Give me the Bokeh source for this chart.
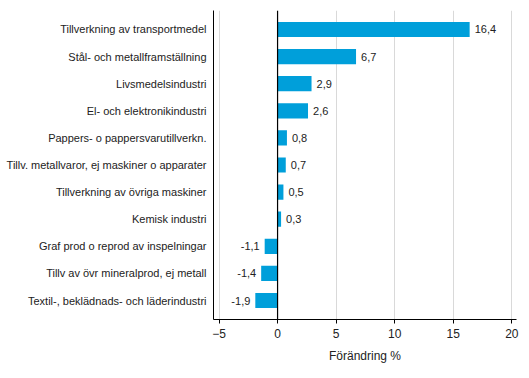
from bokeh.plotting import figure
from bokeh.models import ColumnDataSource, FixedTicker, Span, Range1d
from bokeh.core.properties import value
from bokeh.embed import file_html
from bokeh.resources import INLINE

categories = [
    "Tillverkning av transportmedel",
    "Stål- och metallframställning",
    "Livsmedelsindustri",
    "El- och elektronikindustri",
    "Pappers- o pappersvarutillverkn.",
    "Tillv. metallvaror, ej maskiner o apparater",
    "Tillverkning av övriga maskiner",
    "Kemisk industri",
    "Graf prod o reprod av inspelningar",
    "Tillv av övr mineralprod, ej metall",
    "Textil-, beklädnads- och läderindustri",
]
values = [16.4, 6.7, 2.9, 2.6, 0.8, 0.7, 0.5, 0.3, -1.1, -1.4, -1.9]
x_ticks = [-5, 0, 5, 10, 15, 20]

FONT = "Liberation Sans"
BAR = "#009fda"

pos = list(range(len(categories)))
labels = [f"{v:.1f}".replace(".", ",") for v in values]
src = ColumnDataSource(dict(y=pos, v=values, lab=labels))
pos_src = ColumnDataSource(dict(y=[p for p, v in zip(pos, values) if v >= 0],
                                v=[v for v in values if v >= 0],
                                lab=[l for l, v in zip(labels, values) if v >= 0]))
neg_src = ColumnDataSource(dict(y=[p for p, v in zip(pos, values) if v < 0],
                                v=[v for v in values if v < 0],
                                lab=[l for l, v in zip(labels, values) if v < 0]))

p = figure(width=525, height=374, output_backend="svg", toolbar_location=None,
           x_range=Range1d(-5.47, 20.4), y_range=Range1d(10.7, -0.7),
           min_border_left=213, min_border_top=10, min_border_right=9, min_border_bottom=55)
p.outline_line_color = None
p.background_fill_color = "white"
p.border_fill_color = "white"

p.hbar(y="y", right="v", left=0, height=0.56, source=src, color=BAR, line_color=None)

p.add_layout(Span(location=0, dimension="height", line_color="black", line_width=1.2))

p.text(x="v", y="y", text="lab", source=pos_src, x_offset=5, text_align="left",
       text_baseline="middle", text_font=value(FONT), text_font_size="11px", text_color="#222222")
p.text(x="v", y="y", text="lab", source=neg_src, x_offset=-5, text_align="right",
       text_baseline="middle", text_font=value(FONT), text_font_size="11px", text_color="#222222")

# x axis
p.xaxis.ticker = FixedTicker(ticks=x_ticks)
p.xaxis.axis_label = "Förändring %"
p.xaxis.axis_label_text_font = FONT
p.xaxis.axis_label_text_font_size = "12px"
p.xaxis.axis_label_text_font_style = "normal"
p.xaxis.axis_label_text_color = "#222222"
p.xaxis.axis_label_standoff = 8
p.xaxis.major_label_text_font = FONT
p.xaxis.major_label_text_font_size = "12px"
p.xaxis.major_label_text_color = "#222222"
p.xaxis.major_label_standoff = 5
p.xaxis.major_tick_out = 4
p.xaxis.major_tick_in = 0
p.xaxis.minor_tick_line_color = None
p.xaxis.axis_line_color = "black"
p.xaxis.major_tick_line_color = "black"

# y axis
p.yaxis.ticker = FixedTicker(ticks=pos)
p.yaxis.major_label_overrides = {i: c for i, c in enumerate(categories)}
p.yaxis.major_label_text_font = FONT
p.yaxis.major_label_text_font_size = "11px"
p.yaxis.major_label_text_color = "#222222"
p.yaxis.major_tick_out = 0
p.yaxis.major_tick_in = 0
p.yaxis.minor_tick_line_color = None
p.yaxis.major_label_standoff = 7
p.yaxis.axis_line_color = "black"

p.xgrid.ticker = FixedTicker(ticks=x_ticks)
p.xgrid.grid_line_color = "#d9d9d9"
p.ygrid.grid_line_color = None

open("out.html", "w").write(file_html(p, INLINE))
